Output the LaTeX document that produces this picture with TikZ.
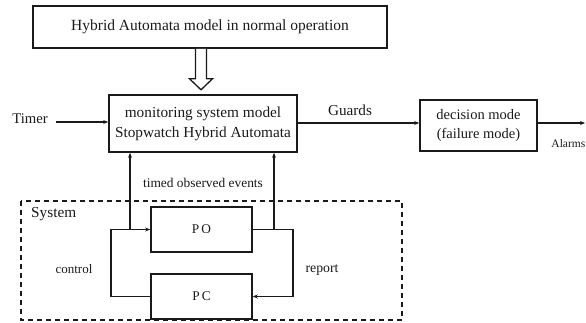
\documentclass[tikz,border=0pt]{standalone}
\usepackage{fontspec}
\setmainfont{Liberation Serif}
\usetikzlibrary{arrows.meta,calc}
\definecolor{ink}{HTML}{1A1A1A}
\tikzset{
  box/.style={draw=ink, line width=1.6pt, inner sep=0pt, align=center, text=ink},
  lbl/.style={text=ink, inner sep=0pt},
  link/.style={draw=ink, line width=1.4pt, -{Stealth[length=5pt,width=4pt]}},
}
\begin{document}
\begin{tikzpicture}[x=1pt,y=-1pt]
\useasboundingbox (0,0) rectangle (586,323);

% upper model box
\node[box, minimum width=354pt, minimum height=42pt, font=\fontsize{15.5}{18}\selectfont] (top) at (210,27)
  {Hybrid Automata model in normal operation};

% monitoring model
\node[box, minimum width=188pt, minimum height=57pt, font=\fontsize{15.3}{20}\selectfont] (mon) at (203,123.5)
  {monitoring system model\\Stopwatch Hybrid Automata};

% decision box
\node[box, minimum width=117pt, minimum height=51pt, font=\fontsize{14.5}{19}\selectfont] (dec) at (478.5,125.5)
  {decision mode\\(failure mode)};

% hollow arrow from the upper box down to the monitor
\draw[draw=ink, line width=1.3pt, fill=white]
  ($(top.south)+(-14.5,0)$) -- ++(0,30) -- ++(-6,0) -- ++(11.5,11) -- ++(11.5,-11) -- ++(-6,0) -- ++(0,-30);

% Timer input
\node[lbl, font=\fontsize{14.7}{17}\selectfont] (timer) at (30,119) {Timer};
\coordinate (tin) at (56,122);
\draw[link] (tin) -- (mon.west |- tin);

% Guards output
\node[lbl, font=\fontsize{15.2}{17}\selectfont] (guards) at (350,110) {Guards};
\draw[link] (mon.east |- 0,123) -- (dec.west |- 0,123);

% Alarms output
\coordinate (alarmend) at (585,123);
\draw[link] (dec.east |- alarmend) -- (alarmend);
\node[lbl, anchor=east, font=\fontsize{11.5}{13}\selectfont] (alarms) at (585.5,144) {Alarms};

% System frame
\draw[draw=ink, line width=1.3pt, dash pattern=on 5pt off 4pt] (21,201) rectangle (402,320);
\node[lbl, anchor=west, font=\fontsize{15.3}{17}\selectfont] (sys) at (31,214) {System};

% plant boxes
\node[box, minimum width=101pt, minimum height=45pt, font=\fontsize{13.3}{15}\selectfont] (po) at (201.5,229.5) {P\,O};
\node[box, minimum width=101pt, minimum height=45pt, font=\fontsize{13.3}{15}\selectfont] (pc) at (201.5,296.5) {P\,C};

% control loop
\coordinate (cl) at (111,0);
\draw[link] (pc.west) -- (cl |- pc.west) -- (cl |- po.west) -- (po.west);
\node[lbl, font=\fontsize{13}{15}\selectfont] (ctl) at (74,269) {control};

% report loop
\coordinate (rl) at (293,0);
\draw[link] (po.east) -- (rl |- po.east) -- (rl |- pc.east) -- (pc.east);
\node[lbl, font=\fontsize{13.8}{15}\selectfont] (rep) at (322,270) {report};

% observed events up to the monitor
\coordinate (ev1) at (130,229.5);
\coordinate (ev2) at (274,229.5);
\draw[link] (ev1) -- (ev1 |- mon.south);
\draw[link] (ev2) -- (ev2 |- mon.south);
\node[lbl, font=\fontsize{13.4}{15}\selectfont] (tev) at (203,183) {timed observed events};

\end{tikzpicture}
\end{document}
